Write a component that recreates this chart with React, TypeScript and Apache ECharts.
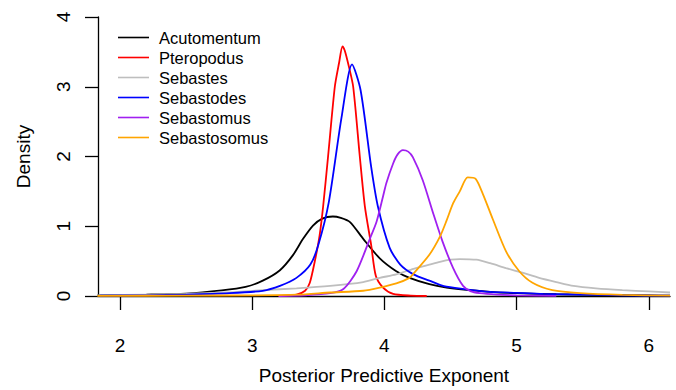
import React, { useEffect, useRef } from "react";
import * as echarts from "echarts";

const seriesNames = ["Acutomentum", "Pteropodus", "Sebastes", "Sebastodes", "Sebastomus", "Sebastosomus"];
const seriesColors = ["#000000", "#FF0000", "#BEBEBE", "#0000FF", "#A020F0", "#FFA500"];

const xTicks = [2, 3, 4, 5, 6];
const yTicks = [0, 1, 2, 3, 4];

const acutomentum: number[][] = [
  [1.83, 0.01], [2.2, 0.02], [2.5, 0.035], [2.77, 0.08], [2.95, 0.13], [3.08, 0.22], [3.21, 0.37],
  [3.31, 0.59], [3.385, 0.82], [3.46, 1.01], [3.53, 1.11], [3.61, 1.14], [3.67, 1.12], [3.74, 1.06],
  [3.84, 0.82], [3.965, 0.54], [4.09, 0.355], [4.19, 0.26], [4.34, 0.17], [4.47, 0.12], [4.6, 0.09],
  [4.8, 0.06], [5.0, 0.04], [5.3, 0.025], [5.6, 0.015], [6.0, 0.008], [6.16, 0.005],
];
const pteropodus: number[][] = [
  [3.2, 0], [3.335, 0.02], [3.4, 0.075], [3.436, 0.19], [3.474, 0.5], [3.51, 0.87], [3.537, 1.29],
  [3.574, 2.0], [3.625, 3.0], [3.657, 3.34], [3.683, 3.58], [3.7, 3.52], [3.73, 3.3], [3.764, 3.0],
  [3.814, 2.0], [3.852, 1.29], [3.9, 0.73], [3.935, 0.29], [3.99, 0.12], [4.066, 0.03], [4.2, 0.005], [4.32, 0],
];
const sebastes: number[][] = [
  [1.83, 0.01], [2.2, 0.02], [2.5, 0.03], [2.8, 0.05], [3.08, 0.084], [3.335, 0.11], [3.59, 0.145],
  [3.84, 0.2], [3.965, 0.26], [4.09, 0.31], [4.22, 0.39], [4.34, 0.45], [4.42, 0.49], [4.5, 0.52],
  [4.57, 0.53], [4.695, 0.52], [4.8, 0.47], [4.92, 0.4], [5.05, 0.33], [5.17, 0.26], [5.3, 0.2],
  [5.43, 0.145], [5.6, 0.11], [5.8, 0.084], [6.0, 0.065], [6.16, 0.05],
];
const sebastodes: number[][] = [
  [1.85, 0.005], [2.2, 0.01], [2.5, 0.02], [2.83, 0.04], [3.08, 0.075], [3.21, 0.145], [3.335, 0.26],
  [3.44, 0.45], [3.5, 0.73], [3.58, 1.35], [3.675, 2.55], [3.755, 3.32], [3.82, 2.95], [3.9, 1.85],
  [3.95, 1.29], [4.04, 0.69], [4.12, 0.45], [4.22, 0.31], [4.34, 0.22], [4.45, 0.14], [4.6, 0.1],
  [4.8, 0.06], [5.0, 0.045], [5.2, 0.03], [5.5, 0.02], [5.8, 0.01], [6.16, 0.005],
];
const sebastomus: number[][] = [
  [3.2, 0], [3.4, 0.01], [3.59, 0.04], [3.69, 0.1], [3.79, 0.355], [3.89, 0.82], [3.94, 1.06],
  [3.99, 1.43], [4.015, 1.62], [4.066, 1.9], [4.1, 2.03], [4.14, 2.09], [4.18, 2.07], [4.215, 1.99],
  [4.29, 1.66], [4.37, 1.18], [4.44, 0.78], [4.52, 0.4], [4.595, 0.145], [4.65, 0.07], [4.72, 0.04],
  [4.85, 0.02], [5.0, 0.01], [5.3, 0.003],
];
const sebastosomus: number[][] = [
  [1.83, 0.003], [2.5, 0.005], [3.0, 0.01], [3.34, 0.02], [3.59, 0.05], [3.84, 0.075], [3.965, 0.12],
  [4.09, 0.18], [4.19, 0.26], [4.22, 0.32], [4.34, 0.59], [4.42, 0.85], [4.47, 1.08], [4.52, 1.33],
  [4.57, 1.5], [4.63, 1.7], [4.69, 1.68], [4.745, 1.46], [4.82, 1.1], [4.92, 0.64], [5.02, 0.355],
  [5.12, 0.19], [5.27, 0.084], [5.48, 0.04], [5.8, 0.015], [6.16, 0.005],
];

const seriesData = [acutomentum, pteropodus, sebastes, sebastodes, sebastomus, sebastosomus];

const FONT = "'Liberation Sans', Arial, Helvetica, sans-serif";

export default function App() {
  const ref = useRef<HTMLDivElement>(null);
  useEffect(() => {
    if (!ref.current) return;
    const chart = echarts.init(ref.current, undefined, { renderer: "svg" });
    chart.setOption({
      animation: false,
      backgroundColor: "#ffffff",
      textStyle: { fontFamily: FONT },
      grid: { left: 98, top: 17, right: 6, bottom: 88, containLabel: false },
      legend: {
        orient: "vertical",
        left: 113,
        top: 23,
        icon: "rect",
        itemWidth: 31,
        itemHeight: 1.6,
        itemGap: 1,
        data: seriesNames,
        textStyle: { fontSize: 16.5, lineHeight: 19, color: "#000", fontFamily: FONT, padding: [0, 0, 0, 5] },
      },
      xAxis: {
        type: "value",
        min: 1.834,
        max: 6.16,
        name: "Posterior Predictive Exponent",
        nameLocation: "middle",
        nameGap: 70,
        nameTextStyle: { fontSize: 19, color: "#000", fontFamily: FONT },
        axisLine: { show: true, onZero: false, lineStyle: { color: "#000", width: 1.3 } },
        axisTick: { show: true, length: 14, customValues: xTicks, lineStyle: { color: "#000", width: 1.3 } },
        axisLabel: { customValues: xTicks, margin: 40, fontSize: 19, color: "#000", fontFamily: FONT },
        splitLine: { show: false },
      },
      yAxis: {
        type: "value",
        min: 0,
        max: 4,
        name: "Density",
        nameLocation: "middle",
        nameGap: 65,
        nameTextStyle: { fontSize: 19, color: "#000", fontFamily: FONT },
        axisLine: { show: true, lineStyle: { color: "#000", width: 1.3 } },
        axisTick: { show: true, length: 13, customValues: yTicks, lineStyle: { color: "#000", width: 1.3 } },
        axisLabel: { customValues: yTicks, rotate: 90, margin: 25, fontSize: 19, color: "#000", fontFamily: FONT },
        splitLine: { show: false },
      },
      series: seriesNames.map((name, i) => ({
        name,
        type: "line",
        data: seriesData[i],
        symbol: "none",
        smooth: 0.25,
        color: seriesColors[i],
        lineStyle: { color: seriesColors[i], width: 1.8 },
      })),
    });
    return () => chart.dispose();
  }, []);
  return <div ref={ref} style={{ position: "fixed", left: 0, top: 0, width: 676, height: 390 }} />;
}
